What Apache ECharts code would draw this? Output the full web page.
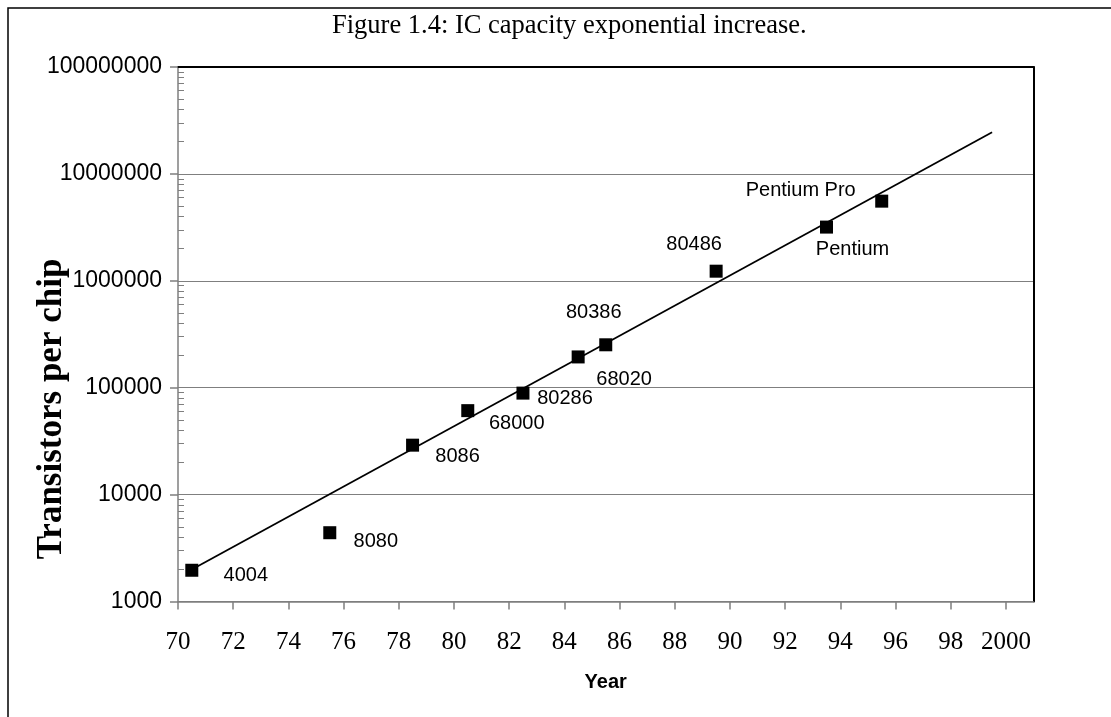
<!DOCTYPE html>
<html>
<head>
<meta charset="utf-8">
<script src="https://cdn.jsdelivr.net/npm/echarts@6/dist/echarts.min.js"></script>
<style>
  html, body { margin: 0; padding: 0; background: #fff; }
  #chart { width: 1111px; height: 717px; }
</style>
</head>
<body>
<div id="chart"></div>
<script>
// chips
const chips = ['4004', '8080', '8086', '68000', '80286', '68020', '80386', '80486', 'Pentium', 'Pentium Pro'];
const years = [70.5, 75.5, 78.5, 80.5, 82.5, 84.5, 85.5, 89.5, 93.5, 95.5];
const transistors = [1960, 4400, 29000, 61000, 89000, 194000, 252000, 1230000, 3180000, 5560000];

// exponential trend line (straight on the log axis)
const trendYears = [70.5, 99.5];
const trendValues = [1990, 24500000];

// axis ticks
const xTicks = [70, 72, 74, 76, 78, 80, 82, 84, 86, 88, 90, 92, 94, 96, 98, 100];
const yMin = 1000, yMax = 100000000;
const minorTicks = [];
for (let d = 1000; d < yMax; d *= 10) {
  for (let m = 2; m <= 9; m++) minorTicks.push(m * d);
}

// where each data label sits relative to its marker (px)
const labelOffsets = [[54, 5], [46, 9], [45, 11], [49, 13], [42, 5], [46, 23], [-12, -32], [-22, -27], [26, 22], [-81, -11]];

const serif = '"Liberation Serif", "Times New Roman", serif';
const sans = '"Liberation Sans", Arial, sans-serif';

let points = [];
for (let i = 0; i < chips.length; i++) {
  points.push({
    value: [years[i], transistors[i]],
    name: chips[i],
    label: { offset: labelOffsets[i] }
  });
}

const option = {
  animation: false,
  backgroundColor: '#fff',
  title: {
    text: 'Figure 1.4: IC capacity exponential increase.',
    left: 327,
    top: 8,
    textStyle: { fontFamily: serif, fontSize: 26.5, fontWeight: 'normal', color: '#000' }
  },
  grid: { left: 178, top: 67, right: 77.5, bottom: 115.5, containLabel: false },
  xAxis: [
    {
      type: 'value',
      min: 70,
      max: 101,
      interval: 2,
      position: 'bottom',
      name: 'Year',
      nameLocation: 'middle',
      nameGap: 71,
      nameTextStyle: { fontFamily: sans, fontSize: 20, fontWeight: 'bold', color: '#000', verticalAlign: 'top' },
      axisLine: { lineStyle: { color: '#7f7f7f', width: 1.5 } },
      axisTick: { customValues: xTicks, length: 8, lineStyle: { color: '#7f7f7f', width: 1.5 } },
      axisLabel: {
        customValues: xTicks,
        margin: 28,
        fontFamily: serif,
        fontSize: 25,
        color: '#000',
        formatter: v => (v === 100 ? '2000' : String(v))
      },
      splitLine: { show: false }
    },
    {
      // top frame edge
      type: 'value',
      min: 70,
      max: 101,
      position: 'top',
      axisLine: { lineStyle: { color: '#000', width: 2 } },
      axisTick: { show: false },
      axisLabel: { show: false },
      splitLine: { show: false }
    }
  ],
  yAxis: [
    {
      type: 'log',
      logBase: 10,
      min: yMin,
      max: yMax,
      position: 'left',
      axisLine: { show: true, lineStyle: { color: '#7f7f7f', width: 1.5 } },
      axisTick: { show: true, length: 8, lineStyle: { color: '#7f7f7f', width: 1.5 } },
      axisLabel: {
        margin: 16,
        fontFamily: sans,
        fontSize: 23,
        color: '#000',
        formatter: v => String(Math.round(v))
      },
      splitLine: { show: true, lineStyle: { color: '#7f7f7f', width: 1.2 } }
    },
    {
      // minor ticks, drawn inside
      type: 'log',
      logBase: 10,
      min: yMin,
      max: yMax,
      position: 'left',
      axisLine: { show: false },
      axisTick: { show: true, inside: true, length: 6, customValues: minorTicks, lineStyle: { color: '#7f7f7f', width: 1 } },
      axisLabel: { show: false },
      splitLine: { show: false }
    },
    {
      // right frame edge
      type: 'log',
      logBase: 10,
      min: yMin,
      max: yMax,
      position: 'right',
      axisLine: { show: true, lineStyle: { color: '#000', width: 2 } },
      axisTick: { show: false },
      axisLabel: { show: false },
      splitLine: { show: false }
    }
  ],
  graphic: [
    {
      type: 'rect',
      shape: { x: 8, y: 8, width: 1300, height: 900 },
      style: { fill: 'none', stroke: '#000', lineWidth: 1.5 },
      silent: true
    },
    {
      type: 'text',
      x: 52,
      y: 409,
      rotation: Math.PI / 2,
      style: {
        text: 'Transistors per chip',
        font: 'bold 35px ' + serif,
        fill: '#000',
        align: 'center',
        verticalAlign: 'middle'
      },
      silent: true
    }
  ],
  series: [
    {
      type: 'line',
      data: trendYears.map((y, i) => [y, trendValues[i]]),
      showSymbol: false,
      symbol: 'none',
      lineStyle: { color: '#000', width: 1.8 },
      z: 2
    },
    {
      type: 'scatter',
      data: points,
      symbol: 'rect',
      symbolSize: 13,
      itemStyle: { color: '#000', opacity: 1 },
      z: 3,
      label: {
        show: true,
        position: 'inside',
        formatter: p => p.name,
        fontFamily: sans,
        fontSize: 20,
        color: '#000',
        opacity: 1,
        textBorderWidth: 0,
        align: 'center',
        verticalAlign: 'middle'
      }
    }
  ]
};

var myChart = echarts.init(document.getElementById('chart'));
myChart.setOption(option);
</script>
</body>
</html>
